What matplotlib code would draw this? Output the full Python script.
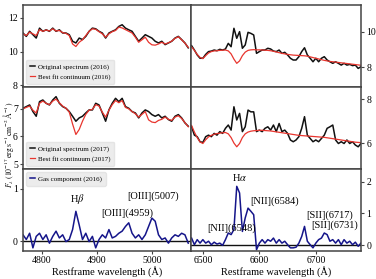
import matplotlib
matplotlib.use("Agg")
import matplotlib.pyplot as plt
import numpy as np

plt.rcParams['font.family'] = ['Liberation Serif', 'DejaVu Serif']
plt.rcParams['mathtext.fontset'] = 'stix'

# --- wavelength grids (restframe, Angstrom) ---
wave_blue = np.arange(4766, 5070, 6)
wave_red = np.arange(6480, 6781, 5)

# --- 2016 spectrum, blue side ---
spec16_blue = [11.10, 10.90, 11.20, 11.00, 10.80, 11.39, 11.20, 11.29, 11.20, 11.39,
               11.20, 11.29, 11.10, 11.10, 11.00, 10.61, 10.51, 10.80, 10.71, 10.90,
               11.20, 11.39, 11.35, 11.20, 11.10, 10.80, 11.10, 11.20, 11.29, 11.49,
               11.59, 11.39, 11.29, 11.20, 10.90, 10.61, 10.80, 11.00, 10.90, 10.80,
               10.61, 10.51, 10.61, 10.41, 10.51, 10.61, 10.80, 10.90, 10.71, 10.51,
               10.22]
cont16_blue = [11.05, 10.95, 11.15, 11.05, 10.95, 11.30, 11.20, 11.28, 11.22, 11.35,
               11.22, 11.25, 11.12, 11.08, 10.95, 10.45, 10.30, 10.55, 10.70, 10.95,
               11.20, 11.35, 11.32, 11.18, 11.05, 10.85, 11.05, 11.18, 11.25, 11.45,
               11.40, 11.30, 11.20, 11.10, 10.85, 10.55, 10.70, 10.85, 10.55, 10.40,
               10.38, 10.45, 10.55, 10.45, 10.52, 10.62, 10.78, 10.88, 10.70, 10.50,
               10.25]

# --- 2016 spectrum, red side ---
spec16_red = [9.22, 8.97, 8.69, 8.50, 8.50, 8.72, 8.88, 8.91, 8.97, 8.93,
              9.01, 8.97, 9.03, 9.35, 9.16, 10.21, 9.64, 10.02, 9.07, 9.26,
              9.98, 9.92, 9.83, 8.78, 8.88, 8.97, 8.97, 9.07, 9.03, 8.91,
              8.88, 8.97, 8.78, 8.84, 8.69, 8.50, 8.40, 8.40, 8.59, 8.88,
              9.10, 8.69, 8.50, 8.30, 8.50, 8.30, 8.50, 8.59, 8.40, 8.30,
              8.21, 8.30, 8.21, 8.11, 8.21, 8.11, 8.15, 8.08, 8.11, 7.92,
              8.02]
cont16_red = [9.15, 8.95, 8.72, 8.55, 8.48, 8.65, 8.80, 8.88, 8.92, 8.93,
              8.95, 8.96, 8.97, 8.92, 8.75, 8.45, 8.21, 8.35, 8.65, 8.85,
              8.95, 8.98, 8.99, 8.98, 8.98, 8.97, 8.96, 8.95, 8.93, 8.90,
              8.86, 8.82, 8.78, 8.75, 8.72, 8.70, 8.68, 8.67, 8.66, 8.65,
              8.64, 8.62, 8.58, 8.54, 8.50, 8.46, 8.42, 8.38, 8.35, 8.32,
              8.30, 8.28, 8.26, 8.24, 8.22, 8.20, 8.18, 8.16, 8.14, 8.12,
              8.10]

# --- 2017 spectrum, blue side ---
spec17_blue = [7.02, 7.08, 7.14, 6.90, 6.73, 7.26, 7.32, 7.20, 7.14, 7.32,
               7.44, 7.20, 7.08, 7.02, 6.90, 6.73, 6.55, 6.67, 6.73, 6.85,
               6.96, 6.96, 7.20, 7.14, 6.85, 6.55, 6.96, 7.20, 7.38, 7.26,
               7.38, 7.08, 7.02, 6.90, 6.85, 6.67, 6.85, 6.96, 6.90, 6.79,
               6.73, 6.79, 6.67, 6.73, 6.61, 6.55, 6.73, 6.79, 6.67, 6.49,
               6.37]
cont17_blue = [7.00, 7.05, 7.10, 6.95, 6.85, 7.20, 7.28, 7.20, 7.15, 7.28,
               7.35, 7.22, 7.10, 7.02, 6.88, 6.45, 6.07, 6.25, 6.55, 6.80,
               6.95, 6.98, 7.15, 7.10, 6.88, 6.70, 6.95, 7.15, 7.30, 7.22,
               7.30, 7.05, 7.00, 6.90, 6.82, 6.70, 6.80, 6.90, 6.60, 6.52,
               6.50, 6.58, 6.62, 6.70, 6.62, 6.58, 6.70, 6.75, 6.65, 6.50,
               6.35]

# --- 2017 spectrum, red side ---
spec17_red = [6.74, 6.36, 6.29, 6.06, 6.03, 6.29, 6.36, 6.29, 6.44, 6.36,
              6.52, 6.44, 6.67, 6.82, 6.59, 7.65, 7.05, 7.35, 6.52, 6.74,
              7.50, 7.42, 7.42, 6.52, 6.59, 6.52, 6.67, 6.74, 6.59, 6.82,
              6.52, 6.89, 6.52, 6.59, 6.44, 6.14, 6.06, 6.14, 6.29, 6.67,
              7.20, 6.36, 6.21, 6.06, 6.14, 6.06, 6.21, 6.36, 6.67, 6.74,
              6.82, 6.14, 5.98, 6.06, 5.98, 6.14, 5.98, 6.06, 5.91, 5.83,
              5.98]
cont17_red = [6.80, 6.50, 6.25, 6.05, 5.98, 6.15, 6.28, 6.35, 6.40, 6.43,
              6.45, 6.47, 6.48, 6.42, 6.25, 6.00, 5.83, 5.98, 6.25, 6.42,
              6.50, 6.54, 6.56, 6.57, 6.58, 6.58, 6.57, 6.56, 6.55, 6.53,
              6.51, 6.49, 6.47, 6.45, 6.43, 6.41, 6.39, 6.37, 6.35, 6.34,
              6.33, 6.32, 6.31, 6.30, 6.29, 6.28, 6.27, 6.26, 6.24, 6.22,
              6.20, 6.18, 6.16, 6.14, 6.12, 6.10, 6.08, 6.06, 6.04, 6.03,
              6.02]

# --- gas component (2016) ---
gas_blue = [0.12, 0.03, 0.15, -0.13, 0.09, 0.15, 0.03, 0.12, -0.04, 0.09,
            0.19, 0.06, 0.12, -0.01, 0.03, 0.22, 0.57, 0.31, 0.03, 0.15,
            -0.01, 0.09, -0.13, 0.03, 0.12, 0.06, 0.22, 0.06, 0.09, 0.15,
            0.19, 0.28, 0.35, 0.15, 0.06, 0.12, 0.03, 0.12, 0.28, 0.44,
            0.38, 0.12, 0.03, 0.06, -0.04, 0.06, 0.12, 0.09, 0.15, 0.12,
            -0.04]
gas_red = [0.22, 0.01, 0.17, 0.06, 0.17, 0.06, 0.12, 0.01, 0.09, 0.03,
           0.06, -0.01, 0.17, 0.38, 0.33, 0.49, 1.86, 1.65, 0.43, 0.86,
           1.17, 1.07, 0.96, -0.15, 0.06, 0.17, 0.06, 0.17, 0.12, 0.22,
           0.06, 0.17, 0.06, 0.12, 0.01, -0.09, -0.09, -0.07, 0.06, 0.27,
           0.59, 0.12, 0.01, -0.09, 0.06, 0.17, 0.22, 0.38, 0.33, 0.12,
           0.17, 0.06, 0.17, 0.01, 0.17, 0.06, 0.12, 0.01, 0.09, -0.04,
           0.06]

line_labels_blue = [(r'H$\beta$', 4864, 0.81), (r'[OIII](4959)', 4956, 0.54),
                    (r'[OIII](5007)', 5002, 0.85)]
line_labels_red = [(r'H$\alpha$', 6565, 2.13), (r'[NII](6584)', 6627, 1.39),
                   (r'[NII](6548)', 6550, 0.54), (r'[SII](6717)', 6724, 0.96),
                   (r'[SII](6731)', 6733, 0.62)]

BLACK = '#111111'
RED = '#e8352e'
NAVY = '#15158a'
SPINE = '#444444'

W, H = 376, 279
fig = plt.figure(figsize=(W / 100, H / 100), dpi=100)

left_x, mid_x, right_x = 23 / W, 191 / W, 361 / W
rows = [(5, 87), (87, 169), (169, 251)]

axes = []
for top, bot in rows:
    b = 1 - bot / H
    h = (bot - top) / H
    axl = fig.add_axes([left_x, b, mid_x - left_x, h])
    axr = fig.add_axes([mid_x, b, right_x - mid_x, h])
    axes.append((axl, axr))

for axl, axr in axes:
    axl.set_xlim(4766, 5071)
    axr.set_xlim(6479, 6780)
    for ax in (axl, axr):
        for s in ax.spines.values():
            s.set_color(SPINE)
            s.set_linewidth(1.1)
        ax.tick_params(direction='out', length=2.5, width=0.8, labelsize=7, color=SPINE, pad=1.2)
    axl.tick_params(right=False)
    axr.yaxis.tick_right()
    axl.set_xticks([4800, 4900, 5000])
    axr.set_xticks([6500, 6600, 6700])

# row 1: 2016 spectrum
axl, axr = axes[0]
axl.plot(wave_blue, spec16_blue, color=BLACK, lw=1.1, label='Original spectrum (2016)')
axl.plot(wave_blue, cont16_blue, color=RED, lw=0.9, label='Best fit continuum (2016)')
axr.plot(wave_red, spec16_red, color=BLACK, lw=1.1)
axr.plot(wave_red, cont16_red, color=RED, lw=0.9)
axl.set_ylim(7.9, 12.76)
axr.set_ylim(6.86, 11.54)
axl.set_yticks([8, 10, 12])
axr.set_yticks([8, 10])

# row 2: 2017 spectrum
axl, axr = axes[1]
axl.plot(wave_blue, spec17_blue, color=BLACK, lw=1.1, label='Original spectrum (2017)')
axl.plot(wave_blue, cont17_blue, color=RED, lw=0.9, label='Best fit continuum (2017)')
axr.plot(wave_red, spec17_red, color=BLACK, lw=1.1)
axr.plot(wave_red, cont17_red, color=RED, lw=0.9)
axl.set_ylim(4.82, 7.79)
axr.set_ylim(4.82, 8.55)
axl.set_yticks([5, 6, 7])
axr.set_yticks([6, 8])

# row 3: gas component
axl, axr = axes[2]
axl.plot(wave_blue, gas_blue, color=NAVY, lw=1.1, label='Gas component (2016)')
axr.plot(wave_red, gas_red, color=NAVY, lw=1.1)
for ax in (axl, axr):
    ax.axhline(0, color=BLACK, lw=1.0, zorder=0)
axl.set_ylim(-0.19, 1.38)
axr.set_ylim(-0.19, 2.41)
axl.set_yticks([0, 1])
axr.set_yticks([0, 1, 2])
for txt, x, y in line_labels_blue:
    axl.text(x, y, txt, ha='center', va='center', fontsize=7.5)
for txt, x, y in line_labels_red:
    axr.text(x, y, txt, ha='center', va='center', fontsize=7.5)
axl.set_xlabel('Restframe wavelength (Å)', fontsize=7.5, labelpad=1)
axr.set_xlabel('Restframe wavelength (Å)', fontsize=7.5, labelpad=1)

for i in range(2):
    axes[i][0].set_xticklabels([])
    axes[i][1].set_xticklabels([])

leg_kw = dict(fontsize=5, handlelength=0.7, handletextpad=0.5, borderpad=0.5,
              labelspacing=0.6, frameon=True, facecolor='#ececec', edgecolor='#e4e4e4',
              framealpha=1, fancybox=True)
axes[0][0].legend(loc='lower left', **leg_kw)
axes[1][0].legend(loc='lower left', **leg_kw)
axes[2][0].legend(loc='upper left', **leg_kw)

fig.text(0.002, 0.48, r'$F_\lambda\ (10^{-17}\,\mathrm{erg\,s^{-1}\,cm^{-2}\,\AA^{-1}})$',
         rotation=90, ha='left', va='center', fontsize=5.6)

fig.savefig('out.png', dpi=100)
